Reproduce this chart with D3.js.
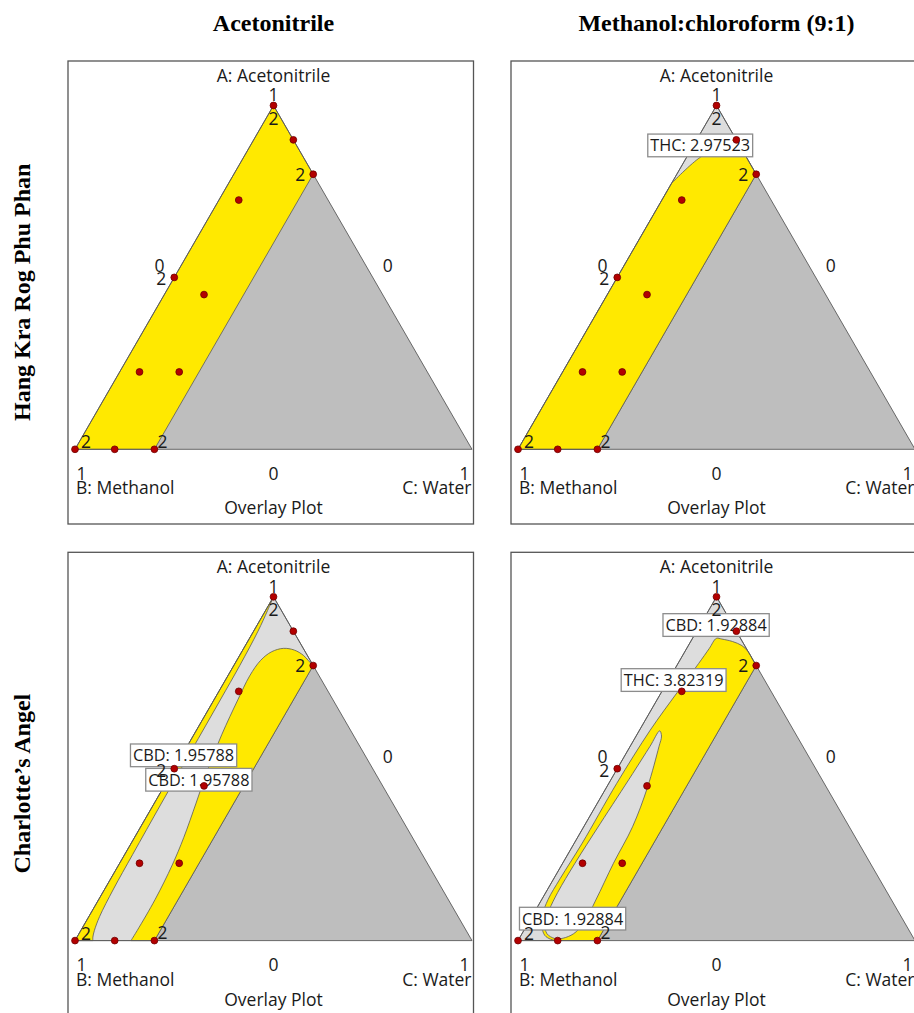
<!DOCTYPE html>
<html>
<head>
<meta charset="utf-8">
<script src="https://cdn.jsdelivr.net/npm/d3@7"></script>
<style>
  body { margin: 0; background: #fff; }
  svg { display: block; }
</style>
</head>
<body>
<svg id="chart" width="914" height="1013"></svg>
<script>
// Column headings (extraction solvent) and row headings (cultivar)
const solvents = ["Acetonitrile", "Methanol:chloroform (9:1)"];
const cultivars = ["Hang Kra Rog Phu Phan", "Charlotte’s Angel"];

// Mixture components and the constraint on water
const componentLabels = ["A: Acetonitrile", "B: Methanol", "C: Water"];
const waterLimit = 0.2;
const plotTitle = "Overlay Plot";

// Design points as component fractions
const pointA = [1, 0.9, 0.8, 0.725, 0.5, 0.45, 0.225, 0.225, 0, 0, 0];
const pointB = [0, 0, 0, 0.225, 0.5, 0.45, 0.725, 0.625, 1, 0.9, 0.8];
const pointC = [0, 0.1, 0.2, 0.05, 0, 0.1, 0.05, 0.15, 0, 0.1, 0.2];
const replicates = [2, 1, 2, 1, 2, 1, 1, 1, 2, 1, 2];

// Tick labels: vertex values and edge mid values
const vertexTicks = ["1", "1", "1"];
const edgeTicks = ["0", "0", "0"];

// Sweet-spot boundaries, as [A, C] fractions
// Hang Kra Rog Phu Phan, methanol:chloroform: upper edge of the feasible band
const hkMcEdge = [[0.774, 0], [0.85, 0.035], [0.873, 0.07], [0.885, 0.115]];
// Charlotte's Angel, acetonitrile: narrow band along the A–B side
const caAcnStripEdge = [[0, 0.045], [0.01, 0.04], [0.03, 0.034], [0.07, 0.027], [0.15, 0.022],
  [0.25, 0.02], [0.4, 0.018], [0.55, 0.017], [0.7, 0.016], [0.8, 0.015], [0.9, 0.011],
  [0.96, 0.005], [1, 0]];
// Charlotte's Angel, acetonitrile: main band beside the water limit
const caAcnBandEdge = [[0, 0.141], [0.03, 0.142], [0.12, 0.142], [0.22, 0.135], [0.3, 0.124],
  [0.4, 0.105], [0.5, 0.085], [0.6, 0.07], [0.7, 0.06], [0.77, 0.055], [0.815, 0.06],
  [0.84, 0.075], [0.85, 0.1], [0.845, 0.13], [0.83, 0.16], [0.815, 0.18], [0.8, 0.2]];
// Charlotte's Angel, methanol:chloroform: outer edge of the feasible region
const caMcOuterEdge = [[0.8, 0.2], [0.818, 0.182], [0.84, 0.16], [0.858, 0.135], [0.87, 0.105],
  [0.877, 0.075], [0.879, 0.06], [0.85, 0.057], [0.806, 0.052], [0.72, 0.04], [0.612, 0.027],
  [0.457, 0.02], [0.283, 0.02], [0.18, 0.016], [0.12, 0.016], [0.075, 0.024], [0.04, 0.04],
  [0.015, 0.06], [0.004, 0.08], [0, 0.095]];
// Charlotte's Angel, methanol:chloroform: infeasible tongue inside the region
const caMcTongue = [[0.006, 0.09], [0.02, 0.063], [0.05, 0.043], [0.09, 0.034], [0.14, 0.03],
  [0.225, 0.031], [0.34, 0.037], [0.486, 0.046], [0.565, 0.05], [0.61, 0.052], [0.595, 0.064],
  [0.564, 0.073], [0.447, 0.103], [0.331, 0.123], [0.225, 0.128], [0.118, 0.137], [0.05, 0.14],
  [0.02, 0.13], [0.007, 0.11]];

// Flag labels: text, panel [row, col] and location [A, C]
const flagText = ["THC: 2.97523", "CBD: 1.95788", "CBD: 1.95788", "CBD: 1.92884", "THC: 3.82319", "CBD: 1.92884"];
const flagRow = [0, 1, 1, 1, 1, 1];
const flagCol = [1, 0, 0, 1, 1, 1];
const flagA = [0.884, 0.539, 0.468, 0.918, 0.758, 0.064];
const flagC = [0.017, 0.004, 0.078, 0.040, 0.013, 0.1055];

// ---- layout and style ----
const YELLOW = "#ffe900", LIGHT = "#dddddd", DARK = "#bebebe", EDGE = "#5a5a5a";
const W = 397, H = W * Math.sqrt(3) / 2;
const colX = [75, 518];          // x of the B vertex in each column
const rowBase = [449.3, 940.6];  // y of the base in each row
const frameW = 405.5, frameH = 463;
const FONT = "'Open Sans', 'Noto Sans', sans-serif";

const svg = d3.select("#chart");

// Headings
svg.selectAll("text.col-head").data(solvents).join("text")
  .attr("class", "col-head")
  .attr("x", (d, i) => colX[i] + W / 2)
  .attr("y", 31)
  .attr("text-anchor", "middle")
  .style("font-family", "'Liberation Serif', 'Times New Roman', serif")
  .style("font-weight", "bold").style("font-size", "24px")
  .text(d => d);

svg.selectAll("text.row-head").data(cultivars).join("text")
  .attr("class", "row-head")
  .attr("transform", (d, i) => `translate(30,${rowBase[i] - 157}) rotate(-90)`)
  .attr("text-anchor", "middle")
  .style("font-family", "'Liberation Serif', 'Times New Roman', serif")
  .style("font-weight", "bold").style("font-size", "24px")
  .text(d => d);

function projection(row, col) {
  const xs = d3.scaleLinear().domain([0, 1]).range([colX[col], colX[col] + W]);
  const ys = d3.scaleLinear().domain([0, 1]).range([rowBase[row], rowBase[row] - H]);
  return ([a, c]) => [xs(c + a / 2), ys(a)];
}

function polygonPath(proj, pts) {
  return d3.line()(pts.map(proj)) + "Z";
}

function regionPath(proj, edge, corners) {
  let p = d3.line().curve(d3.curveCatmullRom.alpha(0.5))(edge.map(proj));
  corners.forEach(pt => { const [x, y] = proj(pt); p += `L${x},${y}`; });
  return p + "Z";
}

const designCorners = [[1, 0], [1 - waterLimit, waterLimit], [0, waterLimit], [0, 0]];

// Per-panel layers: [edge, closing corners, fill, closed curve?]
const panelLayers = {
  "0-0": [[null, designCorners, YELLOW]],
  "0-1": [[null, designCorners, LIGHT],
          [hkMcEdge, [[1 - waterLimit, waterLimit], [0, waterLimit], [0, 0]], YELLOW]],
  "1-0": [[null, designCorners, LIGHT],
          [caAcnStripEdge, [[0, 0]], YELLOW],
          [caAcnBandEdge, [[0, waterLimit]], YELLOW]],
  "1-1": [[null, designCorners, LIGHT],
          [caMcOuterEdge, [[0, waterLimit]], YELLOW],
          [caMcTongue, null, LIGHT, true]]
};

// Offsets of the replicate count labels, keyed by design point index
const repOffset = { 0: [0, 19.5, "middle"], 2: [-8, 6.5, "end"], 4: [-8, 8, "end"],
                    8: [6, -1, "start"], 10: [3, -1.5, "start"] };

[0, 1].forEach(row => [0, 1].forEach(col => {
  const proj = projection(row, col);
  const g = svg.append("g");
  const left = colX[col] - 7, top = rowBase[row] - 388.3;

  g.append("rect")
    .attr("x", left).attr("y", top).attr("width", frameW).attr("height", frameH)
    .attr("fill", "#fff").attr("stroke", "#555").attr("stroke-width", 1.3);

  // Whole simplex
  g.append("path").attr("d", polygonPath(proj, [[1, 0], [0, 1], [0, 0]]))
    .attr("fill", DARK);

  panelLayers[`${row}-${col}`].forEach(([edge, corners, fill, closed]) => {
    let d;
    if (!edge) d = polygonPath(proj, corners);
    else if (closed) d = d3.line().curve(d3.curveCatmullRomClosed.alpha(0.5))(edge.map(proj));
    else d = regionPath(proj, edge, corners);
    g.append("path").attr("d", d).attr("fill", fill)
      .attr("stroke", EDGE).attr("stroke-width", 0.8).attr("stroke-linejoin", "round");
  });

  // Simplex outline
  g.append("path").attr("d", polygonPath(proj, [[1, 0], [0, 1], [0, 0]]))
    .attr("fill", "none").attr("stroke", EDGE).attr("stroke-width", 0.9);

  const txt = (x, y, s, anchor) => g.append("text")
    .attr("x", x).attr("y", y).attr("text-anchor", anchor || "middle")
    .style("font-family", FONT).style("font-size", "17.5px").attr("fill", "#1a1a1a").text(s);

  const apex = proj([1, 0]), vB = proj([0, 0]), vC = proj([0, 0.0]).map((v, i) => i ? v : v + W);
  const midAB = proj([0.5, 0]), midAC = proj([0.5, 0.5]), midBC = proj([0, 0.5]);

  txt(apex[0], top + 20.5, componentLabels[0]);
  txt(apex[0], apex[1] - 4, vertexTicks[0]);
  txt(midAB[0] - 14.7, midAB[1] - 5.7, edgeTicks[1]);
  txt(midAC[0] + 15, midAC[1] - 5.7, edgeTicks[2]);
  txt(vB[0] + 1.5, vB[1] + 30.7, vertexTicks[1], "start");
  txt(midBC[0], midBC[1] + 30.7, edgeTicks[0]);
  txt(vB[0] + W - 2.5, vB[1] + 30.7, vertexTicks[2], "end");
  txt(vB[0] + 1, vB[1] + 45, componentLabels[1], "start");
  txt(vB[0] + W - 0.5, vB[1] + 45, componentLabels[2], "end");
  txt(apex[0], vB[1] + 65, plotTitle);

  // Flags
  flagText.forEach((s, i) => {
    if (flagRow[i] !== row || flagCol[i] !== col) return;
    const [fx, fy] = proj([flagA[i], flagC[i]]);
    const fg = g.append("g");
    const t = fg.append("text").attr("x", fx).attr("y", fy + 6).attr("text-anchor", "middle")
      .style("font-family", FONT).style("font-size", "16.3px").attr("fill", "#1a1a1a").text(s);
    const w = t.node().getComputedTextLength() + 5;
    fg.insert("rect", "text").attr("x", fx - w / 2).attr("y", fy - 11.3)
      .attr("width", w).attr("height", 22.7)
      .attr("fill", "#fff").attr("stroke", "#8c8c8c").attr("stroke-width", 1.3);
  });

  // Replicate counts
  pointA.forEach((a, i) => {
    if (replicates[i] < 2) return;
    const [px, py] = proj([a, pointC[i]]);
    const [dx, dy, anchor] = repOffset[i];
    txt(px + dx, py + dy, String(replicates[i]), anchor);
  });

  // Design points
  g.selectAll("circle").data(pointA.map((a, i) => proj([a, pointC[i]]))).join("circle")
    .attr("cx", d => d[0]).attr("cy", d => d[1]).attr("r", 3.4)
    .attr("fill", "#b30000").attr("stroke", "#6e0000").attr("stroke-width", 0.8);
}));
</script>
</body>
</html>
